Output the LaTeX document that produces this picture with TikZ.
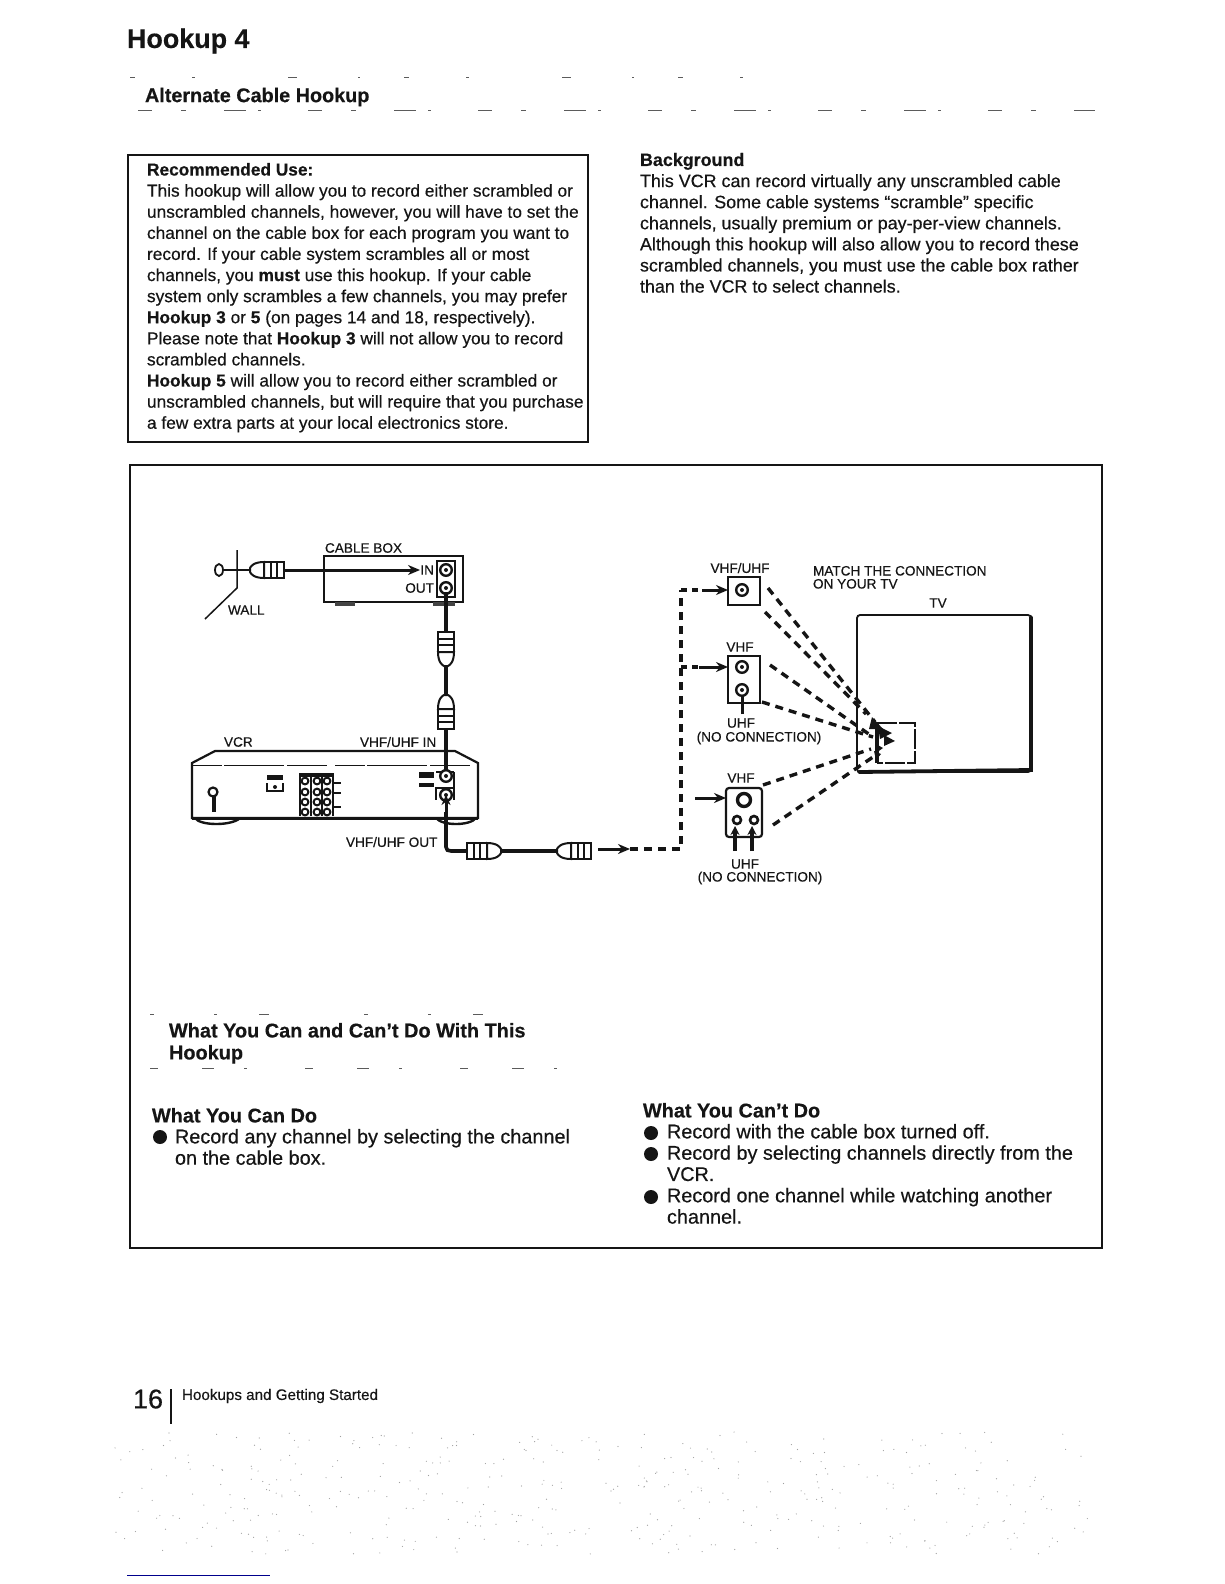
\documentclass[tikz,border=0pt]{standalone}
\usepackage{fontspec}
\setmainfont[FakeBold=0.4]{Liberation Sans}
\usetikzlibrary{arrows.meta,shapes.geometric}
\definecolor{ink}{HTML}{151515}
\newcommand{\B}[1]{{\bfseries #1}}
\tikzset{
  x=1pt,y=-1pt,
  every node/.style={text=ink,inner sep=0pt,outer sep=0pt},
  txt/.style={anchor=north west,align=left,font=\fontsize{17.3}{21.1}\selectfont},
  txtb/.style={anchor=north west,align=left,font=\fontsize{17.9}{21.1}\selectfont},
  body/.style={anchor=north west,align=left,font=\fontsize{19.85}{21.3}\selectfont},
  lbl/.style={font=\fontsize{13.6}{14}\selectfont},
  bul/.style={circle,fill=ink,minimum size=14pt},
  head/.style={anchor=west,font=\fontsize{19.8}{22}\selectfont\bfseries},
  frame/.style={draw=ink,line width=1.4pt},
  cable/.style={draw=ink,line width=3.6pt},
  arrowline/.style={draw=ink,line width=3pt,-{Stealth[length=12pt,width=10pt]}},
  dashv/.style={draw=ink,line width=3.2pt,dash pattern=on 8pt off 6pt},
  dasht/.style={draw=ink,line width=3.4pt,dash pattern=on 8pt off 6pt},
  dev/.style={draw=ink,line width=2.2pt},
  noise/.style={draw=ink!70,line width=1pt},
  pics/coax/.style={code={
    \draw[ink,line width=2pt,fill=white] (0,-8) rectangle (20,8);
    \draw[ink,line width=2pt] (7,-8)--(7,8) (13,-8)--(13,8);
    \draw[ink,line width=2pt,fill=white] (20,-8) .. controls (30,-8) and (33,-4) .. (34,-2) -- (34,2) .. controls (33,4) and (30,8) .. (20,8) -- cycle;
  }},
  pics/port/.style={code={
    \draw[ink,line width=2.4pt,fill=white] (0,0) circle (5.8);
    \fill[ink] (0,0) circle (2);
  }},
}
\begin{document}
\begin{tikzpicture}
\useasboundingbox (0,0) rectangle (1224,1584);
\fill[white] (0,0) rectangle (1224,1584);
\pgfmathsetseed{7}

% titles
\node[anchor=west,font=\fontsize{26.9}{30}\selectfont\bfseries] (title) at (127,41) {Hookup 4};
\node[head] (subtitle) at (145,97) {Alternate Cable Hookup};
\draw[noise,dash pattern=on 5pt off 57pt on 3pt off 93pt on 9pt off 61pt on 2pt off 44pt] (130,78)--(810,78);
\draw[noise,dash pattern=on 14pt off 29pt on 5pt off 38pt on 22pt off 12pt on 3pt off 47pt] (138,111)--(1095,111);

% recommended use
\node[frame,minimum width=460pt,minimum height=287pt,anchor=north west] (recbox) at (128,155) {};
\node[txt] (rectext) at (147,163) {\B{Recommended Use:}\\
This hookup will allow you to record either scrambled or\\
unscrambled channels, however, you will have to set the\\
channel on the cable box for each program you want to\\
record. If your cable system scrambles all or most\\
channels, you \B{must} use this hookup. If your cable\\
system only scrambles a few channels, you may prefer\\
\B{Hookup 3} or \B{5} (on pages 14 and 18, respectively).\\
Please note that \B{Hookup 3} will not allow you to record\\
scrambled channels.\\
\B{Hookup 5} will allow you to record either scrambled or\\
unscrambled channels, but will require that you purchase\\
a few extra parts at your local electronics store.};

% background
\node[txtb] (bgtext) at (640,153) {\B{Background}\\
This VCR can record virtually any unscrambled cable\\
channel. Some cable systems ``scramble'' specific\\
channels, usually premium or pay-per-view channels.\\
Although this hookup will also allow you to record these\\
scrambled channels, you must use the cable box rather\\
than the VCR to select channels.};

% main frame
\node[frame,minimum width=972pt,minimum height=783pt,anchor=north west] (mainframe) at (130,465) {};

% wall
\coordinate (walltop) at (237,550);
\coordinate (wallknee) at (237,588);
\coordinate (wallfoot) at (205,619);
\draw[ink,line width=1.5pt] (walltop)--(wallknee)--(wallfoot);
\node[draw=ink,line width=1.8pt,ellipse,minimum width=8pt,minimum height=12pt] (wallport) at (219,570) {};
\coordinate (wallplug) at (250,570);
\draw[cable,line width=2.8pt] (wallport)--(wallplug);
\pic[rotate=180] at (284,570) {coax};
\node[lbl,anchor=west] (walllabel) at (228,610) {WALL};

% cable box
\node[dev,minimum width=139pt,minimum height=46pt,anchor=north west] (cablebox) at (324,556) {};
\fill[ink!80] (335,602) rectangle (355,606);
\fill[ink!80] (433,602) rectangle (455,606);
\node[lbl,anchor=west] (cablelabel) at (325,548) {CABLE BOX};
\node[lbl,anchor=east] (inlabel) at (434,570) {IN};
\node[lbl,anchor=east] (outlabel) at (434,588) {OUT};
\node[draw=ink,line width=1.5pt,minimum width=18pt,minimum height=36pt,anchor=north west] (boxpanel) at (437,561) {};
\pic at (446,570) {port};
\pic at (446,588) {port};
\coordinate (boxin) at (420,570);
\coordinate (wallout) at (285,570);
\coordinate (boxout) at (446,592);
\draw[arrowline] (wallout)--(boxin);

% vertical cable
\coordinate (p1a) at (446,632);
\coordinate (p1b) at (446,664);
\coordinate (p2b) at (446,696);
\coordinate (p2a) at (446,729);
\coordinate (vcrin) at (446,776);
\coordinate (vcrout) at (446,795);
\draw[cable,line width=4.6pt] (boxout)--(p1a);
\draw[cable] (p1b)--(p2b);
\pic[rotate=-90] at (p1a) {coax};
\pic[rotate=90] at (p2a) {coax};

% vcr
\draw[dev,fill=white] (192,763) -- (215,751) -- (455,751) -- (478,763) -- (478,818) -- (192,818) -- cycle;
\draw[ink,line width=1pt,dash pattern=on 30pt off 2pt on 60pt off 3pt on 40pt off 8pt] (192,765)--(478,765);
\draw[ink,line width=3pt] (192,818) -- (478,818);
\draw[ink,line width=2.4pt] (195,818) .. controls (200,826) and (232,826) .. (240,818);
\draw[ink,line width=2.4pt] (436,818) .. controls (442,826) and (470,826) .. (476,818);
\draw[cable] (p2a)--(vcrin);
\node[lbl,anchor=west] (vcrlabel) at (224,742) {VCR};
\node[lbl,anchor=west] (vhfinlabel) at (360,742) {VHF/UHF IN};
\node[lbl,anchor=west] (vhfoutlabel) at (346,842) {VHF/UHF OUT};
% vcr details
\draw[ink,line width=2.2pt] (213,792) circle (4.5);
\fill[ink] (212,795) rectangle (216,812);
\fill[ink] (267,775) rectangle (283,780);
\draw[ink,line width=1.4pt] (267,783)--(267,791)--(283,791)--(283,783);
\fill[ink] (275,787) circle (2);
\foreach \cx in {305,317,327}{
  \foreach \cy in {781,792,802,812}{
    \draw[ink,line width=2pt] (\cx,\cy) circle (3.4);
  }
  \fill[ink] (\cx-5,773) rectangle (\cx+5,777);
}
\foreach \vx in {300,311,322,333}{\draw[ink,line width=1.3pt] (\vx,773)--(\vx,816);}
\foreach \cy in {783,793,807}{\draw[ink,line width=1.4pt] (333,\cy)--(341,\cy);}
\fill[ink] (419,772) rectangle (434,778);
\fill[ink] (419,783) rectangle (434,787);
\draw[ink,line width=1.2pt] (436,772)--(454,772) (435,788)--(454,788) (454,772)--(454,800) (436,788)--(436,800);
\pic at (446,776) {port};
\pic at (446,795) {port};
\coordinate (plugright) at (467,851);
\coordinate (p3tip) at (500,851);
\coordinate (p4tip) at (557,851);
\coordinate (p4end) at (591,851);
\draw[cable] (446,812) -- (446,847) .. controls (446,850) and (448,851) .. (451,851) -- (plugright);
\draw[-{Stealth[length=10pt,width=9pt]},ink,line width=3pt] (446,812)--(vcrout);
\pic at (plugright) {coax};
\pic[rotate=180] at (p4end) {coax};
\draw[cable] (p3tip)--(p4tip);

% dashed feed
\coordinate (feedstart) at (598,849);
\coordinate (feedarrow) at (630,849);
\coordinate (feedcorner) at (681,849);
\coordinate (feedtop) at (681,590);
\draw[arrowline] (feedstart)--(feedarrow);
\draw[dashv] (feedarrow)--(feedcorner)--(feedtop);

% TV jacks
\node[dev,minimum width=32pt,minimum height=28pt,anchor=north west] (jackA) at (728,577) {};
\pic at (742,590) {port};
\node[dev,minimum width=32pt,minimum height=47pt,anchor=north west] (jackB) at (728,656) {};
\pic at (742,667) {port};
\pic at (742,690) {port};
\node[dev,rounded corners=3pt,minimum width=36pt,minimum height=49pt,anchor=north west] (jackC) at (726,788) {};
\draw[ink,line width=3.4pt] (744,800) circle (6.5);
\draw[ink,line width=2.6pt] (737,820) circle (4);
\draw[ink,line width=2.6pt] (754,820) circle (4);

% feed arrows
\coordinate (tapA) at (681,590);
\coordinate (tapB) at (681,667);
\coordinate (midA) at (702,590);
\coordinate (midB) at (699,667);
\coordinate (midC) at (695,798);
\draw[dashv,dash pattern=on 6pt off 5pt] (tapA)--(midA);
\draw[dashv,dash pattern=on 6pt off 5pt] (tapB)--(midB);
\draw[arrowline] (midA)--(jackA.west |- midA);
\draw[arrowline] (midB)--(jackB.west |- midB);
\draw[arrowline] (midC)--(jackC.west |- midC);

% UHF arrows
\coordinate (uhfB) at (742,714);
\draw[ink,line width=3pt] (uhfB)--(742,696);
\coordinate (uhfCa) at (735,851);
\coordinate (uhfCb) at (752,851);
\draw[ink,line width=3.2pt,-{Stealth[length=9pt,width=9pt]}] (uhfCa)--(735,826);
\draw[ink,line width=3.2pt,-{Stealth[length=9pt,width=9pt]}] (uhfCb)--(752,826);

% jack labels
\node[lbl] (lblA) at (740,568) {VHF/UHF};
\node[lbl] (lblB) at (740,647) {VHF};
\node[lbl] (lblB2) at (741,723) {UHF};
\node[lbl] (lblB3) at (759,738) {(NO CONNECTION)};
\node[lbl] (lblC) at (741,778) {VHF};
\node[lbl] (lblC2) at (745,864) {UHF};
\node[lbl] (lblC3) at (760,878) {(NO CONNECTION)};
\node[lbl,anchor=north west,align=left,font=\fontsize{13.6}{13}\selectfont] (matchlabel) at (813,566) {MATCH THE CONNECTION\\ON YOUR TV};
\node[lbl] (tvlabel) at (938,603) {TV};

% TV
\node[draw=ink,line width=1.8pt,rounded corners=3pt,minimum width=174pt,minimum height=157pt,anchor=north west] (tv) at (857,615) {};
\draw[ink,line width=3.8pt,line cap=round] (1031,617)--(1031,770)--(859,772);
\draw[ink,line width=1.2pt,dash pattern=on 20pt off 2pt] (877,723)--(915,723)--(915,763)--(877,763);
\draw[ink,line width=3.2pt] (877,723)--(877,763);

% dashed lines to the TV
\coordinate (aS) at (768,588); \coordinate (aE) at (875,722);
\coordinate (bS) at (765,612); \coordinate (bE) at (866,714);
\coordinate (cS) at (770,665); \coordinate (cE) at (873,737);
\coordinate (dS) at (762,702); \coordinate (dE) at (873,737);
\coordinate (eS) at (763,785); \coordinate (eE) at (871,749);
\coordinate (fS) at (773,825); \coordinate (fE) at (873,757);
\foreach \s/\e in {aS/aE,bS/bE,cS/cE,dS/dE,eS/eE,fS/fE}{\draw[dasht] (\s)--(\e);}
\fill[ink] (883,729) -- (872,717) -- (869,729) -- cycle;
\fill[ink] (892,733) -- (878,726) -- (880,739) -- cycle;
\fill[ink] (895,741) -- (884,735) -- (884,746) -- cycle;
\fill[ink] (883,748) -- (876,744) -- (876,753) -- cycle;
\fill[ink] (881,754) -- (874,751) -- (876,760) -- cycle;

% lower text
\draw[noise,dash pattern=on 4pt off 60pt on 3pt off 42pt on 10pt off 95pt] (150,1014)--(572,1014);
\draw[noise,dash pattern=on 8pt off 44pt on 12pt off 30pt on 3pt off 58pt] (150,1068)--(572,1068);
\node[anchor=north west,align=left,font=\fontsize{19.9}{22}\selectfont\bfseries] (whathead) at (169,1023) {What You Can and Can't Do With This\\Hookup};
\node[body] (canhead) at (152,1108) {\B{What You Can Do}};
\node[bul] (bulA) at (160,1137) {};
\node[body] (cantext) at (175,1129) {Record any channel by selecting the channel\\on the cable box.};
\node[body] (canthead) at (643,1103) {\B{What You Can't Do}};
\node[body] (canttext) at (667,1124) {Record with the cable box turned off.\\Record by selecting channels directly from the\\VCR.\\Record one channel while watching another\\channel.};
\node[bul] (bulB) at (651,1133) {};
\node[bul] (bulC) at (651,1154) {};
\node[bul] (bulD) at (651,1197) {};

% footer
\node[anchor=west,font=\fontsize{27}{30}\selectfont] (pagenum) at (133,1399) {16};
\coordinate (bartop) at (171,1389);
\coordinate (barbot) at (171,1424);
\draw[ink,line width=1.6pt] (bartop)--(barbot);
\node[anchor=west,font=\fontsize{15.2}{16}\selectfont] (footer) at (182,1396) {Hookups and Getting Started};
\coordinate (ruleL) at (127,1575);
\coordinate (ruleR) at (270,1575);
\draw[blue!55!black,line width=1pt] (ruleL)--(ruleR);
\foreach \i in {1,...,420}{
  \fill[gray!75] ({115+975*rnd},{1432+122*rnd}) circle (0.6);
}
\end{tikzpicture}
\end{document}
